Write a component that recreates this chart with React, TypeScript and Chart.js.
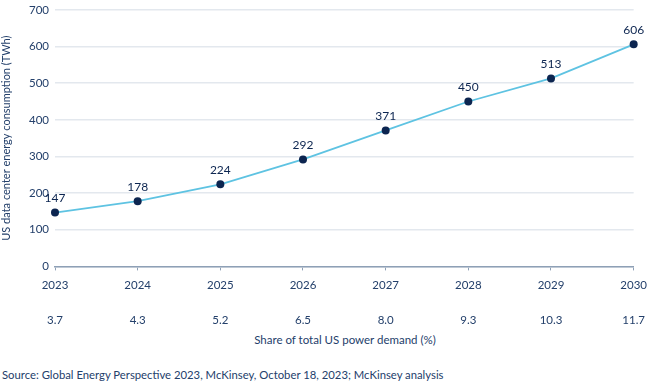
import React, { useEffect, useRef } from "react";
import { Chart, registerables } from "chart.js";
Chart.register(...registerables);

const years = ["2023", "2024", "2025", "2026", "2027", "2028", "2029", "2030"];
const consumption = [147, 178, 224, 292, 371, 450, 513, 606];
const shares = ["3.7", "4.3", "5.2", "6.5", "8.0", "9.3", "10.3", "11.7"];
const yTitle = "US data center energy consumption (TWh)";
const shareTitle = "Share of total US power demand (%)";
const sourceText = "Source: Global Energy Perspective 2023, McKinsey, October 18, 2023; McKinsey analysis";

const FONT = "Lato, 'Open Sans', sans-serif";
const TEXT = "#24406b";
const DARK = "#0c2550";
const LINE = "#5ec3e2";

const labelPlugin = {
  id: "valueLabels",
  afterDatasetsDraw(chart: any) {
    const ctx = chart.ctx;
    const meta = chart.getDatasetMeta(0);
    ctx.save();
    ctx.font = `12px ${FONT}`;
    ctx.fillStyle = DARK;
    ctx.textAlign = "center";
    ctx.textBaseline = "bottom";
    meta.data.forEach((pt: any, i: number) => {
      ctx.fillText(String(consumption[i]), pt.x, pt.y - 8);
    });
    ctx.restore();
  },
};

export default function App() {
  const ref = useRef<HTMLCanvasElement | null>(null);
  useEffect(() => {
    if (!ref.current) return;
    const chart = new Chart(ref.current, {
      type: "line",
      data: {
        labels: years,
        datasets: [
          {
            data: consumption,
            borderColor: LINE,
            borderWidth: 1.8,
            pointRadius: 4,
            pointBackgroundColor: DARK,
            pointBorderColor: DARK,
            pointBorderWidth: 0,
            tension: 0,
            clip: false as any,
          },
        ],
      },
      options: {
        animation: false,
        responsive: true,
        maintainAspectRatio: false,
        layout: { padding: { top: 0, right: 0, left: 0, bottom: 0 } },
        plugins: { legend: { display: false }, tooltip: { enabled: false } },
        scales: {
          x: {
            type: "category",
            offset: false,
            grid: { display: true, drawOnChartArea: false, color: "#8ea0b6", tickLength: 4, lineWidth: 1 },
            border: { display: true, color: "#8ea0b6", width: 1.5 },
            ticks: { color: TEXT, font: { family: FONT, size: 11.5 }, padding: 8, maxRotation: 0 },
          },
          x2: {
            type: "category",
            position: "bottom",
            labels: shares,
            offset: false,
            grid: { display: false },
            border: { display: false },
            ticks: { color: TEXT, font: { family: FONT, size: 11.5 }, padding: 5, maxRotation: 0 },
          },
          y: {
            min: 0,
            max: 700,
            afterFit: (s: any) => {
              s.width = 55;
            },
            ticks: { stepSize: 100, color: TEXT, font: { family: FONT, size: 11.5 }, padding: 6 },
            grid: { color: "#e3e8ee", lineWidth: 1.5, drawTicks: false },
            border: { display: false },
            title: { display: true, text: yTitle, color: TEXT, font: { family: FONT, size: 11 }, padding: { top: 0, bottom: 2 } },
          },
        },
      },
      plugins: [labelPlugin],
    });
    return () => chart.destroy();
  }, []);
  return (
    <div style={{ position: "absolute", left: 0, top: 0, width: 650, height: 385, background: "#fff", overflow: "hidden" }}>
      <div style={{ position: "absolute", left: 0, top: -3, width: 655, height: 335 }}>
        <canvas ref={ref} />
      </div>
      <div
        style={{
          position: "absolute",
          left: 345,
          top: 333,
          transform: "translateX(-50%)",
          fontFamily: FONT,
          fontSize: 11.5,
          color: TEXT,
          whiteSpace: "nowrap",
        }}
      >
        {shareTitle}
      </div>
      <div
        style={{
          position: "absolute",
          left: 2,
          top: 368,
          fontFamily: FONT,
          fontSize: 11.3,
          color: TEXT,
          whiteSpace: "nowrap",
        }}
      >
        {sourceText}
      </div>
    </div>
  );
}
